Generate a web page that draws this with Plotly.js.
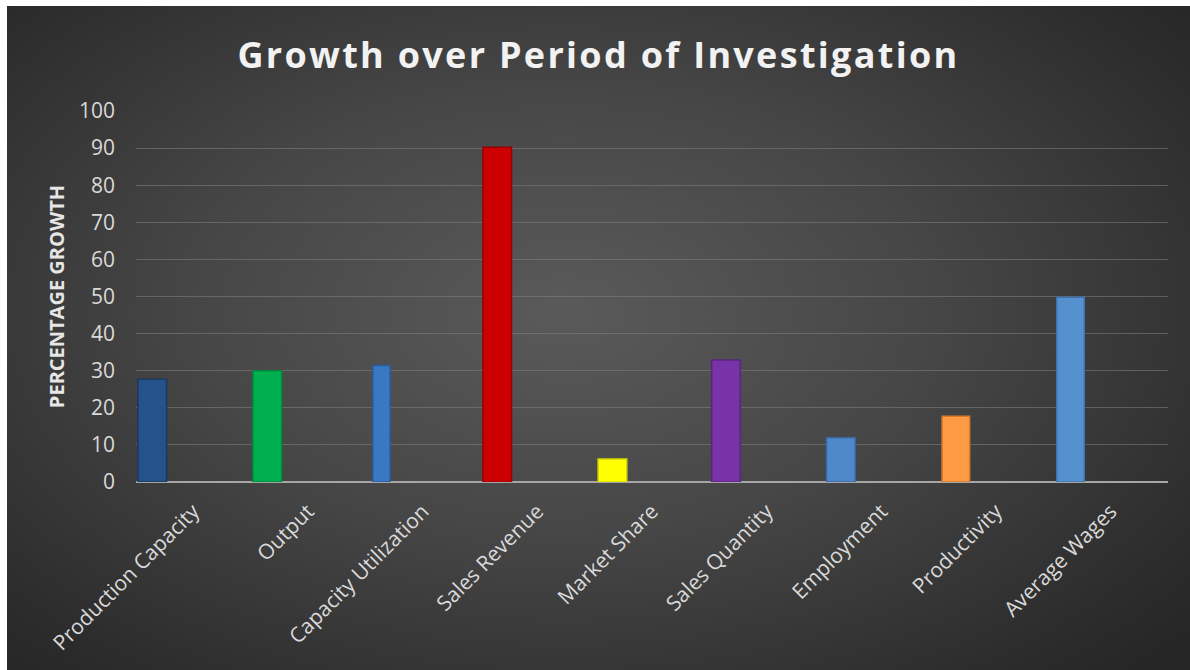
<!DOCTYPE html>
<html>
<head>
<meta charset="utf-8">
<script src="https://cdn.plot.ly/plotly-3.0.1.min.js"></script>
<style>
  html, body { margin: 0; padding: 0; background: #ffffff; }
  #wrap { position: absolute; left: 7px; top: 6px; width: 1183px; height: 664px;
          background: radial-gradient(ellipse 70% 75% at 47% 46%, #5a5a5a 0%, #464646 45%, #2c2c2c 88%, #262626 100%); }
  #chart { width: 1183px; height: 664px; }
  .gtitle { letter-spacing: 2.3px; }
</style>
</head>
<body>
<div id="wrap"><div id="chart"></div></div>
<script>
const categories = ["Production Capacity", "Output", "Capacity Utilization", "Sales Revenue",
                    "Market Share", "Sales Quantity", "Employment", "Productivity", "Average Wages"];
const growth = [27.7, 30, 31.4, 90.2, 6.2, 32.9, 11.9, 17.7, 49.8];
const yTicks = [0, 10, 20, 30, 40, 50, 60, 70, 80, 90, 100];

const barColors = ["#25528a", "#00b050", "#3a78c4", "#cc0000", "#ffff00", "#7833a8", "#4f89c9", "#ff9b45", "#5590cf"];
const edgeColors = ["#1a3a63", "#008a3e", "#2a5c9c", "#9a0000", "#d6d600", "#5a2580", "#3a6aa3", "#d97a2a", "#3f74b0"];
const barWidths = [0.25, 0.25, 0.15, 0.25, 0.25, 0.25, 0.25, 0.24, 0.24];
const barOffsets = [-0.483, -0.48, -0.434, -0.475, -0.47, -0.48, -0.478, -0.47, -0.47];

const trace = {
  type: "bar",
  x: categories,
  y: growth,
  width: barWidths,
  offset: barOffsets,
  marker: { color: barColors, line: { color: edgeColors, width: 1.5 } },
  hoverinfo: "skip"
};

const tickFont = { family: "Open Sans, Lato, sans-serif", size: 21, color: "#d9d9d9" };

const layout = {
  width: 1183, height: 664,
  margin: { l: 129, r: 22, t: 105, b: 188 },
  paper_bgcolor: "rgba(0,0,0,0)",
  plot_bgcolor: "rgba(0,0,0,0)",
  showlegend: false,
  title: {
    text: "<b>Growth over Period of Investigation</b>",
    font: { family: "Open Sans, Lato, sans-serif", size: 36, color: "#f2f2f2" },
    x: 0.5, xanchor: "center", y: 0.925, yanchor: "middle"
  },
  xaxis: {
    type: "category",
    range: [-0.5, 8.5],
    tickangle: -45,
    tickfont: tickFont,
    showgrid: false,
    showline: false,
    zeroline: false,
    ticks: "",
    ticklen: 0,
    ticklabelstandoff: 12
  },
  yaxis: {
    range: [0, 100],
    tickvals: yTicks,
    ticktext: yTicks.map(String),
    tickfont: tickFont,
    showgrid: true,
    gridcolor: "rgba(130,130,130,0.55)",
    gridwidth: 1,
    zeroline: true,
    zerolinecolor: "#a6a6a6",
    zerolinewidth: 2.5,
    showline: false,
    ticks: "",
    ticklabelstandoff: 20,
    title: {
      text: "<b>PERCENTAGE GROWTH</b>",
      font: { family: "Open Sans, Lato, sans-serif", size: 20, color: "#e6e6e6" },
      standoff: 8
    }
  },
  bargap: 0
};

Plotly.newPlot("chart", [trace], layout, { displayModeBar: false, staticPlot: true });
</script>
</body>
</html>
